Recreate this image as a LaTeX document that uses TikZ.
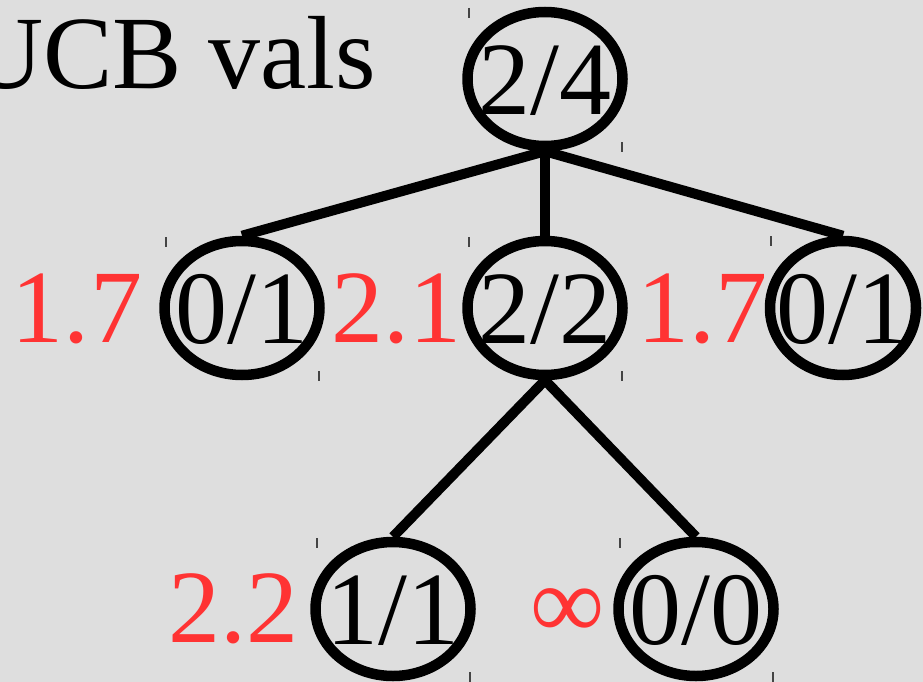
\documentclass[tikz,border=0pt]{standalone}
\usepackage{fontspec}
\setmainfont{Liberation Serif}
\usetikzlibrary{shapes.geometric}
\definecolor{bgc}{HTML}{DEDEDE}
\definecolor{ucbred}{HTML}{FF3333}
\definecolor{tickc}{HTML}{444444}
\newcommand{\ctrtext}[1]{\raisebox{-0.34em}[0pt][0pt]{\makebox[0pt]{#1}}}
\begin{document}
\begin{tikzpicture}[x=1pt,y=-1pt,
  treenode/.style={ellipse, draw=black, line width=10.5pt, inner sep=0pt,
    minimum width=155pt, minimum height=134pt,
    font=\fontsize{104}{110}\selectfont},
  ucbval/.style={anchor=base, text=ucbred, inner sep=0pt,
    font=\fontsize{104}{110}\selectfont},
  treeedge/.style={line width=10pt, draw=black},
  tickmark/.style={draw=tickc, line width=1.5pt}]
\useasboundingbox (0,0) rectangle (923,682);
\fill[bgc] (0,0) rectangle (923,682);

% title
\node[anchor=base west, inner sep=0pt, font=\fontsize{104}{110}\selectfont] (title) at (-32,89) {UCB vals};

% tree nodes
\node[treenode] (root) at (545,79) {\ctrtext{2/4}};
\node[treenode] (l) at (242,308) {\ctrtext{0/1}};
\node[treenode] (m) at (545,308) {\ctrtext{2/2}};
\node[treenode, minimum width=146pt] (r) at (843,308) {\ctrtext{0/1}};
\node[treenode] (ml) at (393,609) {\ctrtext{1/1}};
\node[treenode] (mr) at (696,609) {\ctrtext{0/0}};

% edges
\draw[treeedge] (root.south) -- (l.north);
\draw[treeedge] (root.south) -- (m.north);
\draw[treeedge] (root.south) -- (r.north);
\draw[treeedge] (m.south) -- (ml.north);
\draw[treeedge] (m.south) -- (mr.north);

% UCB values
\node[ucbval] (vl) at (77,342) {1.7};
\node[ucbval] (vm) at (396,342) {2.1};
\node[ucbval] (vr) at (702,342) {1.7};
\node[ucbval] (vml) at (233,642) {2.2};
\node[ucbval] (vmr) at (568,638) {∞};

% small corner ticks
\foreach \cx/\cy in {545/79, 242/308, 545/308, 393/609, 696/609}{
  \draw[tickmark] (\cx-76,\cy-71) -- (\cx-76,\cy-61);
  \draw[tickmark] (\cx+77,\cy+63) -- (\cx+77,\cy+73);
}
\draw[tickmark] (771,236) -- (771,246);
\end{tikzpicture}
\end{document}
